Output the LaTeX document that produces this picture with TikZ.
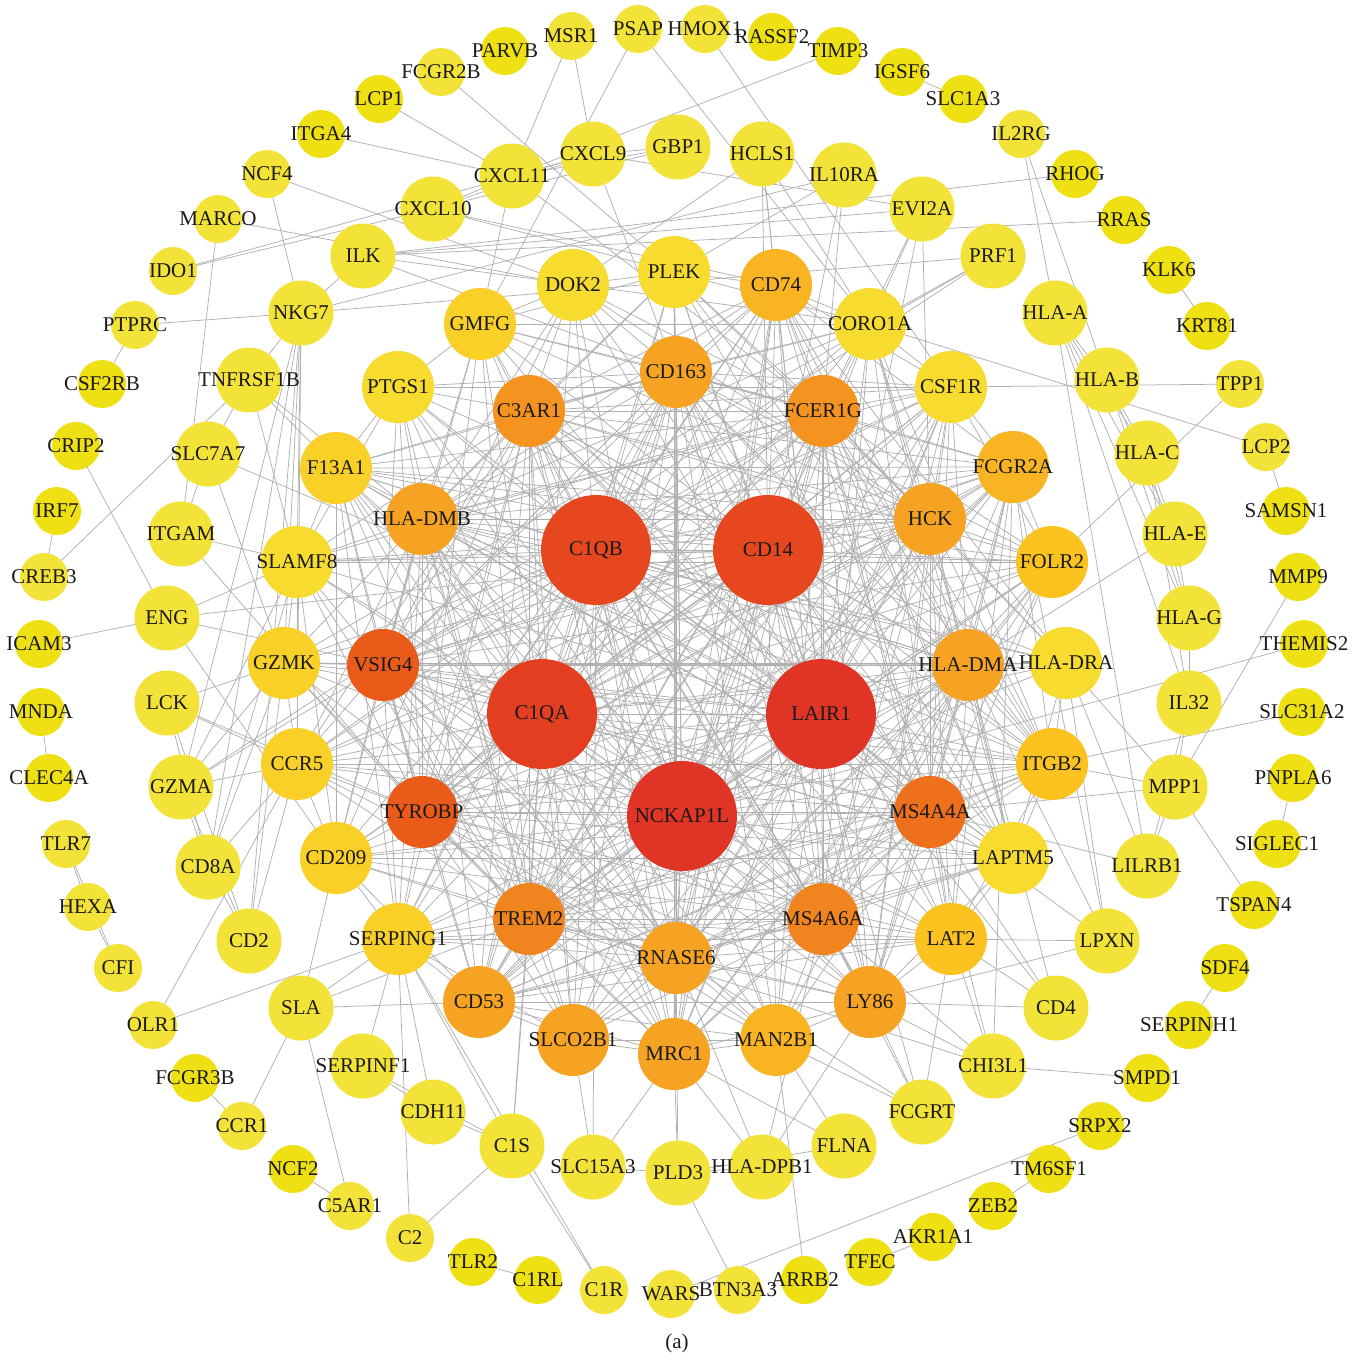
\documentclass[tikz,border=0pt]{standalone}
\usepackage{fontspec}
\setmainfont{Liberation Serif}
\pgfdeclarelayer{bg}
\pgfsetlayers{bg,main}
\definecolor{yA}{HTML}{EEE012}
\definecolor{yB}{HTML}{F3E338}
\definecolor{yC}{HTML}{F7DB2E}
\definecolor{yD}{HTML}{F8D028}
\definecolor{oA}{HTML}{FBC220}
\definecolor{oB}{HTML}{F9B423}
\definecolor{oC}{HTML}{F6A324}
\definecolor{oG}{HTML}{F4931F}
\definecolor{oD}{HTML}{F0841E}
\definecolor{oE}{HTML}{EE6F1C}
\definecolor{oF}{HTML}{EA5B1A}
\definecolor{rA}{HTML}{E6471F}
\definecolor{rB}{HTML}{E43E21}
\definecolor{rC}{HTML}{E03526}
\definecolor{edgec}{HTML}{B0B0B0}
\definecolor{txt}{HTML}{1A1A1A}
\tikzset{
 nd/.style={circle,inner sep=0pt,outer sep=0pt,draw=none},
 lb/.style={text=txt,font=\fontsize{21}{23}\selectfont,inner sep=0pt},
 sO/.style={nd,minimum size=48pt},
 sM/.style={nd,minimum size=65pt},
 sI/.style={nd,minimum size=72pt},
 sC/.style={nd,minimum size=110pt},
 ed/.style={draw=edgec,line width=0.75pt},
}
\newcommand\gnode[5]{\node[#1,fill=#2,label={[lb]center:#5}] (#3) at (#4) {};}
\begin{document}
\begin{tikzpicture}[x=1pt,y=-1pt]
\useasboundingbox (0,0) rectangle (1366,1361);
% outer ring
\gnode{sO}{yB}{PSAP}{638,29}{PSAP}
\gnode{sO}{yB}{HMOX1}{705,29}{HMOX1}
\gnode{sO}{yA}{RASSF2}{772,37}{RASSF2}
\gnode{sO}{yA}{TIMP3}{838,51}{TIMP3}
\gnode{sO}{yA}{IGSF6}{902,72}{IGSF6}
\gnode{sO}{yA}{SLC1A3}{963,99}{SLC1A3}
\gnode{sO}{yB}{IL2RG}{1021,134}{IL2RG}
\gnode{sO}{yA}{RHOG}{1075,174}{RHOG}
\gnode{sO}{yA}{RRAS}{1124,220}{RRAS}
\gnode{sO}{yA}{KLK6}{1169,270}{KLK6}
\gnode{sO}{yA}{KRT81}{1207,326}{KRT81}
\gnode{sO}{yB}{TPP1}{1240,384}{TPP1}
\gnode{sO}{yB}{LCP2}{1266,447}{LCP2}
\gnode{sO}{yA}{SAMSN1}{1286,511}{SAMSN1}
\gnode{sO}{yA}{MMP9}{1298,577}{MMP9}
\gnode{sO}{yA}{THEMIS2}{1304,644}{THEMIS2}
\gnode{sO}{yA}{SLC31A2}{1302,712}{SLC31A2}
\gnode{sO}{yA}{PNPLA6}{1293,778}{PNPLA6}
\gnode{sO}{yA}{SIGLEC1}{1277,844}{SIGLEC1}
\gnode{sO}{yA}{TSPAN4}{1254,905}{TSPAN4}
\gnode{sO}{yA}{SDF4}{1225,968}{SDF4}
\gnode{sO}{yA}{SERPINH1}{1189,1025}{SERPINH1}
\gnode{sO}{yA}{SMPD1}{1147,1078}{SMPD1}
\gnode{sO}{yA}{SRPX2}{1100,1126}{SRPX2}
\gnode{sO}{yA}{TM6SF1}{1049,1169}{TM6SF1}
\gnode{sO}{yA}{ZEB2}{993,1206}{ZEB2}
\gnode{sO}{yA}{AKR1A1}{933,1237}{AKR1A1}
\gnode{sO}{yA}{TFEC}{870,1262}{TFEC}
\gnode{sO}{yA}{ARRB2}{805,1280}{ARRB2}
\gnode{sO}{yB}{BTN3A3}{738,1290}{BTN3A3}
\gnode{sO}{yB}{WARS}{671,1294}{WARS}
\gnode{sO}{yB}{C1R}{604,1290}{C1R}
\gnode{sO}{yA}{C1RL}{538,1280}{C1RL}
\gnode{sO}{yA}{TLR2}{473,1262}{TLR2}
\gnode{sO}{yB}{C2}{410,1238}{C2}
\gnode{sO}{yB}{C5AR1}{350,1206}{C5AR1}
\gnode{sO}{yA}{NCF2}{293,1169}{NCF2}
\gnode{sO}{yB}{CCR1}{242,1126}{CCR1}
\gnode{sO}{yA}{FCGR3B}{195,1078}{FCGR3B}
\gnode{sO}{yB}{OLR1}{153,1025}{OLR1}
\gnode{sO}{yB}{CFI}{118,968}{CFI}
\gnode{sO}{yB}{HEXA}{88,907}{HEXA}
\gnode{sO}{yB}{TLR7}{66,844}{TLR7}
\gnode{sO}{yA}{CLEC4A}{49,778}{CLEC4A}
\gnode{sO}{yA}{MNDA}{41,712}{MNDA}
\gnode{sO}{yA}{ICAM3}{39,644}{ICAM3}
\gnode{sO}{yB}{CREB3}{44,577}{CREB3}
\gnode{sO}{yA}{IRF7}{57,511}{IRF7}
\gnode{sO}{yA}{CRIP2}{76,446}{CRIP2}
\gnode{sO}{yA}{CSF2RB}{102,384}{CSF2RB}
\gnode{sO}{yB}{PTPRC}{135,325}{PTPRC}
\gnode{sO}{yB}{IDO1}{173,271}{IDO1}
\gnode{sO}{yB}{MARCO}{218,219}{MARCO}
\gnode{sO}{yB}{NCF4}{267,174}{NCF4}
\gnode{sO}{yA}{ITGA4}{321,134}{ITGA4}
\gnode{sO}{yA}{LCP1}{379,99}{LCP1}
\gnode{sO}{yB}{FCGR2B}{441,72}{FCGR2B}
\gnode{sO}{yA}{PARVB}{505,51}{PARVB}
\gnode{sO}{yB}{MSR1}{571,36}{MSR1}
% middle ring
\gnode{sM}{yB}{CXCL9}{593,154}{CXCL9}
\gnode{sM}{yB}{GBP1}{678,147}{GBP1}
\gnode{sM}{yB}{HCLS1}{762,154}{HCLS1}
\gnode{sM}{yB}{IL10RA}{844,175}{IL10RA}
\gnode{sM}{yB}{EVI2A}{922,209}{EVI2A}
\gnode{sM}{yB}{PRF1}{993,256}{PRF1}
\gnode{sM}{yB}{HLAA}{1055,313}{HLA-A}
\gnode{sM}{yB}{HLAB}{1107,380}{HLA-B}
\gnode{sM}{yB}{HLAC}{1147,453}{HLA-C}
\gnode{sM}{yB}{HLAE}{1175,534}{HLA-E}
\gnode{sM}{yB}{HLAG}{1189,618}{HLA-G}
\gnode{sM}{yB}{IL32}{1189,703}{IL32}
\gnode{sM}{yB}{MPP1}{1175,787}{MPP1}
\gnode{sM}{yB}{LILRB1}{1147,866}{LILRB1}
\gnode{sM}{yB}{LPXN}{1107,941}{LPXN}
\gnode{sM}{yB}{CD4}{1056,1008}{CD4}
\gnode{sM}{yB}{CHI3L1}{993,1066}{CHI3L1}
\gnode{sM}{yB}{FCGRT}{922,1112}{FCGRT}
\gnode{sM}{yB}{FLNA}{844,1146}{FLNA}
\gnode{sM}{yB}{HLADPB1}{762,1167}{HLA-DPB1}
\gnode{sM}{yB}{PLD3}{678,1173}{PLD3}
\gnode{sM}{yB}{SLC15A3}{593,1167}{SLC15A3}
\gnode{sM}{yB}{C1S}{512,1146}{C1S}
\gnode{sM}{yB}{CDH11}{433,1112}{CDH11}
\gnode{sM}{yB}{SERPINF1}{363,1066}{SERPINF1}
\gnode{sM}{yB}{SLA}{301,1008}{SLA}
\gnode{sM}{yB}{CD2}{249,941}{CD2}
\gnode{sM}{yB}{CD8A}{208,867}{CD8A}
\gnode{sM}{yB}{GZMA}{181,787}{GZMA}
\gnode{sM}{yB}{LCK}{167,703}{LCK}
\gnode{sM}{yB}{ENG}{167,618}{ENG}
\gnode{sM}{yB}{ITGAM}{181,534}{ITGAM}
\gnode{sM}{yB}{SLC7A7}{208,454}{SLC7A7}
\gnode{sM}{yB}{TNFRSF1B}{249,380}{TNFRSF1B}
\gnode{sM}{yB}{NKG7}{301,313}{NKG7}
\gnode{sM}{yB}{ILK}{363,256}{ILK}
\gnode{sM}{yB}{CXCL10}{433,209}{CXCL10}
\gnode{sM}{yB}{CXCL11}{512,176}{CXCL11}
% inner ring
\gnode{sI}{yC}{PLEK}{674,272}{PLEK}
\gnode{sI}{oB}{CD74}{776,285}{CD74}
\gnode{sI}{yC}{CORO1A}{870,324}{CORO1A}
\gnode{sI}{yC}{CSF1R}{951,387}{CSF1R}
\gnode{sI}{oB}{FCGR2A}{1013,467}{FCGR2A}
\gnode{sI}{oA}{FOLR2}{1052,562}{FOLR2}
\gnode{sI}{yC}{HLADRA}{1066,663}{HLA-DRA}
\gnode{sI}{oA}{ITGB2}{1052,764}{ITGB2}
\gnode{sI}{yC}{LAPTM5}{1013,858}{LAPTM5}
\gnode{sI}{oA}{LAT2}{951,939}{LAT2}
\gnode{sI}{oC}{LY86}{870,1002}{LY86}
\gnode{sI}{oB}{MAN2B1}{776,1040}{MAN2B1}
\gnode{sI}{oC}{MRC1}{674,1054}{MRC1}
\gnode{sI}{oC}{SLCO2B1}{573,1040}{SLCO2B1}
\gnode{sI}{oC}{CD53}{479,1002}{CD53}
\gnode{sI}{yD}{SERPING1}{398,939}{SERPING1}
\gnode{sI}{yD}{CD209}{336,858}{CD209}
\gnode{sI}{yD}{CCR5}{297,764}{CCR5}
\gnode{sI}{yD}{GZMK}{284,663}{GZMK}
\gnode{sI}{yC}{SLAMF8}{297,562}{SLAMF8}
\gnode{sI}{yD}{F13A1}{336,468}{F13A1}
\gnode{sI}{yC}{PTGS1}{398,387}{PTGS1}
\gnode{sI}{yD}{GMFG}{480,324}{GMFG}
\gnode{sI}{yC}{DOK2}{573,285}{DOK2}
% orange ring
\gnode{sI}{oC}{CD163}{676,372}{CD163}
\gnode{sI}{oG}{FCER1G}{823,411}{FCER1G}
\gnode{sI}{oC}{HCK}{930,519}{HCK}
\gnode{sI}{oC}{HLADMA}{968,665}{HLA-DMA}
\gnode{sI}{oE}{MS4A4A}{930,812}{MS4A4A}
\gnode{sI}{oD}{MS4A6A}{823,919}{MS4A6A}
\gnode{sI}{oC}{RNASE6}{676,958}{RNASE6}
\gnode{sI}{oD}{TREM2}{529,919}{TREM2}
\gnode{sI}{oF}{TYROBP}{422,812}{TYROBP}
\gnode{sI}{oF}{VSIG4}{383,665}{VSIG4}
\gnode{sI}{oC}{HLADMB}{422,519}{HLA-DMB}
\gnode{sI}{oG}{C3AR1}{529,411}{C3AR1}
% core
\gnode{sC}{rA}{C1QB}{596,550}{C1QB}
\gnode{sC}{rA}{CD14}{768,550}{CD14}
\gnode{sC}{rB}{C1QA}{542,714}{C1QA}
\gnode{sC}{rC}{LAIR1}{821,714}{LAIR1}
\gnode{sC}{rC}{NCKAP1L}{682,816}{NCKAP1L}
\node[lb] (cap) at (677,1343) {(a)};
\begin{pgfonlayer}{bg}
% peripheral edges
\foreach \a/\b in {LCP1/CXCL11,ITGA4/CXCL11,FCGR2B/PLEK,MSR1/CXCL11,MSR1/CXCL9,PSAP/GMFG,PSAP/CORO1A,HMOX1/CSF1R,TIMP3/CXCL11,IGSF6/SLC1A3,IL2RG/HLAA,IL2RG/HLAB,RHOG/ILK,RRAS/ILK,KLK6/KRT81,CORO1A/LCP2,CSF1R/TPP1,TPP1/FOLR2,LCP2/SAMSN1,MMP9/MPP1,THEMIS2/NCKAP1L,SLC31A2/ITGB2,PNPLA6/SIGLEC1,MPP1/TSPAN4,SDF4/SERPINH1,SMPD1/CHI3L1,WARS/SRPX2,TM6SF1/ZEB2,AKR1A1/TFEC,MAN2B1/ARRB2,PLD3/BTN3A3,C1S/C1R,SERPING1/C1R,TLR2/C1RL,C2/C1S,SERPING1/C2,NCF2/C5AR1,SLA/C5AR1,SLA/CCR1,FCGR3B/CCR1,OLR1/SERPING1,OLR1/CCR5,HEXA/CFI,TLR7/HEXA,TLR7/CFI,MNDA/CLEC4A,IRF7/CREB3,CREB3/TNFRSF1B,CRIP2/ENG,ICAM3/ENG,CSF2RB/PTPRC,PTPRC/NKG7,NCF4/NKG7,NCF4/DOK2,MARCO/DOK2,MARCO/ITGAM,IDO1/CXCL10,IDO1/CXCL9}
  \draw[ed] (\a) -- (\b);
% middle ring edges
\foreach \a/\b in {CXCL9/GBP1,CXCL9/CXCL11,CXCL9/CXCL10,CXCL11/CXCL10,GBP1/CXCL11,GBP1/CXCL10,CXCL9/EVI2A,CXCL9/CD163,CXCL11/GMFG,CXCL11/FCER1G,CXCL10/PLEK,CXCL10/CD74,HCLS1/CD74,HCLS1/CD14,HCLS1/LAIR1,HCLS1/CORO1A,HCLS1/DOK2,IL10RA/PLEK,IL10RA/FCER1G,IL10RA/NKG7,IL10RA/CD14,ILK/EVI2A,ILK/NKG7,ILK/CORO1A,ILK/CD163,NKG7/PRF1,NKG7/TNFRSF1B,NKG7/SLAMF8,NKG7/GZMK,NKG7/GZMA,NKG7/CD8A,NKG7/CD2,NKG7/CCR5,PRF1/CORO1A,PRF1/GZMK,PRF1/GZMA,EVI2A/HCK,EVI2A/FCER1G,EVI2A/CORO1A,EVI2A/LAIR1,HLAA/HLAB,HLAA/HLAC,HLAA/HLAE,HLAA/HLAG,HLAA/IL32,HLAB/HLAC,HLAB/HLAE,HLAB/HLAG,HLAC/HLAE,HLAC/HLAG,HLAC/IL32,HLAE/HLAG,HLAG/IL32,HLAA/LILRB1,HLAE/HLADMA,IL32/MPP1,MPP1/LILRB1,IL32/LILRB1,MPP1/ITGB2,MPP1/MS4A4A,MPP1/HLADRA,MS4A4A/LILRB1,HLADRA/LILRB1,LPXN/LY86,LPXN/MS4A4A,LPXN/HLADMA,LPXN/LAT2,LPXN/FCGR2A,CD4/LAT2,CD4/LY86,CD4/MS4A4A,CD4/LAIR1,CD4/HLADMA,CHI3L1/LAT2,CHI3L1/MS4A6A,CHI3L1/LY86,CHI3L1/MS4A4A,CHI3L1/TREM2,CHI3L1/FCGR2A,FCGRT/LAT2,FCGRT/MAN2B1,FCGRT/LY86,FCGRT/MS4A6A,FCGRT/RNASE6,FCGRT/CD14,FLNA/MAN2B1,FLNA/MRC1,HLADPB1/PLD3,PLD3/FLNA,HLADPB1/MRC1,HLADPB1/LY86,HLADPB1/RNASE6,HLADPB1/MS4A6A,PLD3/MRC1,PLD3/RNASE6,PLD3/SLC15A3,SLC15A3/SLCO2B1,SLC15A3/C1QB,SLC15A3/MRC1,C1S/CDH11,C1S/SERPINF1,C1S/SERPING1,C1S/TREM2,C1S/C1QA,CDH11/SERPINF1,SERPING1/CDH11,SERPING1/SERPINF1,SLA/SERPING1,SLA/CD209,SLA/CD53,SLA/TREM2,CD2/CD8A,CD2/CCR5,CD2/GZMK,CD2/LCK,CD2/GZMA,CD8A/CCR5,CD8A/GZMK,CD8A/SLAMF8,CD8A/GZMA,CD8A/LCK,GZMA/CCR5,GZMA/GZMK,GZMA/VSIG4,GZMA/SLAMF8,LCK/GZMK,LCK/TYROBP,LCK/CCR5,ENG/SLAMF8,ENG/CD14,ENG/VSIG4,ENG/CD209,ITGAM/SLAMF8,ITGAM/TYROBP,ITGAM/SLC7A7,SLC7A7/LAIR1,SLC7A7/GZMK,SLC7A7/TNFRSF1B,TNFRSF1B/F13A1,TNFRSF1B/SLAMF8,TNFRSF1B/HLADMB}
  \draw[ed] (\a) -- (\b);
% inner ring edges
\foreach \a/\b in {PLEK/MRC1,PLEK/DOK2,PLEK/CD74,PLEK/GMFG,PLEK/CORO1A,PLEK/LAPTM5,PLEK/ITGB2,CD74/CORO1A,CD74/HLADRA,CD74/FCGR2A,CD74/CSF1R,CD74/MRC1,CD74/LAPTM5,CD74/ITGB2,CORO1A/GMFG,CORO1A/CSF1R,CORO1A/LAPTM5,CORO1A/ITGB2,CORO1A/LAT2,CSF1R/PTGS1,CSF1R/FCGR2A,CSF1R/FOLR2,CSF1R/LY86,CSF1R/MRC1,FCGR2A/F13A1,FCGR2A/FOLR2,FCGR2A/ITGB2,FCGR2A/LAT2,FCGR2A/CD53,FCGR2A/LY86,FOLR2/SLAMF8,FOLR2/MRC1,FOLR2/F13A1,FOLR2/LY86,HLADRA/GZMK,HLADRA/ITGB2,HLADRA/LAPTM5,HLADRA/LPXN,ITGB2/LAPTM5,ITGB2/LAT2,ITGB2/CCR5,ITGB2/CD53,LAPTM5/CD209,LAPTM5/LAT2,LAPTM5/CD53,LAPTM5/LY86,LAT2/SERPING1,LAT2/LY86,LAT2/CD53,LY86/CD53,LY86/MAN2B1,LY86/MRC1,MAN2B1/SLCO2B1,MAN2B1/MRC1,MAN2B1/CD53,MRC1/SLCO2B1,MRC1/CD53,MRC1/F13A1,SLCO2B1/CD53,SLCO2B1/SERPING1,CD53/SERPING1,CD53/CD209,SERPING1/CD209,SERPING1/F13A1,CD209/CCR5,CD209/F13A1,CD209/SLAMF8,CCR5/GZMK,CCR5/SLAMF8,GZMK/SLAMF8,SLAMF8/F13A1,SLAMF8/PTGS1,F13A1/PTGS1,PTGS1/GMFG,GMFG/DOK2}
  \draw[ed] (\a) -- (\b);
% core
\foreach \a/\b in {C1QB/CD14,C1QB/C1QA,C1QB/LAIR1,C1QB/NCKAP1L,CD14/C1QA,CD14/LAIR1,CD14/NCKAP1L,C1QA/LAIR1,C1QA/NCKAP1L,LAIR1/NCKAP1L}
  \draw[ed] (\a) -- (\b);
\foreach \a in {C1QB,CD14,C1QA,LAIR1,NCKAP1L}{
  \foreach \b in {CD163,FCER1G,HCK,HLADMA,MS4A4A,MS4A6A,RNASE6,TREM2,TYROBP,VSIG4,HLADMB,C3AR1,PLEK,CD74,CORO1A,CSF1R,FCGR2A,FOLR2,HLADRA,ITGB2,LAPTM5,LAT2,LY86,MAN2B1,MRC1,SLCO2B1,CD53,SERPING1,CD209,CCR5,GZMK,SLAMF8,F13A1,PTGS1,GMFG,DOK2}{
    \draw[ed] (\a) -- (\b);
  }
}
% orange ring pairs
\foreach \a [count=\i] in {CD163,FCER1G,HCK,HLADMA,MS4A4A,MS4A6A,RNASE6,TREM2,TYROBP,VSIG4,HLADMB,C3AR1}{
  \foreach \b [count=\j] in {CD163,FCER1G,HCK,HLADMA,MS4A4A,MS4A6A,RNASE6,TREM2,TYROBP,VSIG4,HLADMB,C3AR1}{
    \ifnum\j>\i \draw[ed] (\a) -- (\b);\fi
  }
}
% orange to inner
\foreach \b in {PLEK,CD74,CORO1A,CSF1R,FCGR2A,FOLR2,ITGB2,LAPTM5,MRC1,SLCO2B1,CD53,SERPING1,F13A1,PTGS1,GMFG,DOK2,MAN2B1,LY86} \draw[ed] (CD163) -- (\b);
\foreach \b in {CD74,CORO1A,CSF1R,FCGR2A,FOLR2,HLADRA,ITGB2,LAPTM5,LAT2,LY86,MAN2B1,MRC1,CD53,CCR5,SLAMF8,F13A1,GMFG,PLEK,DOK2} \draw[ed] (FCER1G) -- (\b);
\foreach \b in {CORO1A,CSF1R,FCGR2A,FOLR2,HLADRA,ITGB2,LAPTM5,LAT2,LY86,CD53,CCR5,SLAMF8,PLEK,DOK2,F13A1,GMFG} \draw[ed] (HCK) -- (\b);
\foreach \b in {CD74,FCGR2A,FOLR2,HLADRA,ITGB2,LAPTM5,LAT2,LY86,MAN2B1,MRC1,SLCO2B1,CD53,GZMK,F13A1,CORO1A,CSF1R} \draw[ed] (HLADMA) -- (\b);
\foreach \b in {FCGR2A,FOLR2,ITGB2,LAPTM5,LAT2,LY86,MAN2B1,MRC1,SLCO2B1,CD53,SERPING1,CD209,CCR5,CSF1R,CD74,F13A1} \draw[ed] (MS4A4A) -- (\b);
\foreach \b in {FCGR2A,FOLR2,ITGB2,LAPTM5,LAT2,LY86,MAN2B1,MRC1,SLCO2B1,CD53,SERPING1,CD209,CD74,CSF1R,CORO1A,F13A1,PTGS1} \draw[ed] (MS4A6A) -- (\b);
\foreach \b in {FOLR2,ITGB2,LAPTM5,LAT2,LY86,MAN2B1,MRC1,SLCO2B1,CD53,SERPING1,CD209,CCR5,GZMK,PLEK,CD74,CSF1R,F13A1} \draw[ed] (RNASE6) -- (\b);
\foreach \b in {FOLR2,ITGB2,LAPTM5,LAT2,LY86,MAN2B1,MRC1,SLCO2B1,CD53,SERPING1,CD209,CCR5,GZMK,SLAMF8,F13A1,PTGS1,GMFG,CD74,CSF1R,FCGR2A} \draw[ed] (TREM2) -- (\b);
\foreach \b in {ITGB2,LAPTM5,LAT2,LY86,MAN2B1,MRC1,SLCO2B1,CD53,SERPING1,CD209,CCR5,GZMK,SLAMF8,F13A1,PTGS1,GMFG,FCGR2A,CSF1R,CD74,FOLR2} \draw[ed] (TYROBP) -- (\b);
\foreach \b in {CD74,CSF1R,FCGR2A,FOLR2,HLADRA,ITGB2,LAPTM5,MRC1,SLCO2B1,CD53,SERPING1,CD209,CCR5,GZMK,SLAMF8,F13A1,PTGS1,GMFG,DOK2,LY86,MAN2B1} \draw[ed] (VSIG4) -- (\b);
\foreach \b in {CD74,CORO1A,CSF1R,FCGR2A,HLADRA,ITGB2,MRC1,SLCO2B1,CD53,SERPING1,CD209,CCR5,GZMK,SLAMF8,F13A1,PTGS1,GMFG,DOK2,PLEK} \draw[ed] (HLADMB) -- (\b);
\foreach \b in {PLEK,CD74,CORO1A,CSF1R,FCGR2A,FOLR2,ITGB2,LAPTM5,MRC1,SLCO2B1,CD53,SERPING1,CD209,CCR5,SLAMF8,F13A1,PTGS1,GMFG,DOK2,LY86} \draw[ed] (C3AR1) -- (\b);
\end{pgfonlayer}
\end{tikzpicture}
\end{document}
